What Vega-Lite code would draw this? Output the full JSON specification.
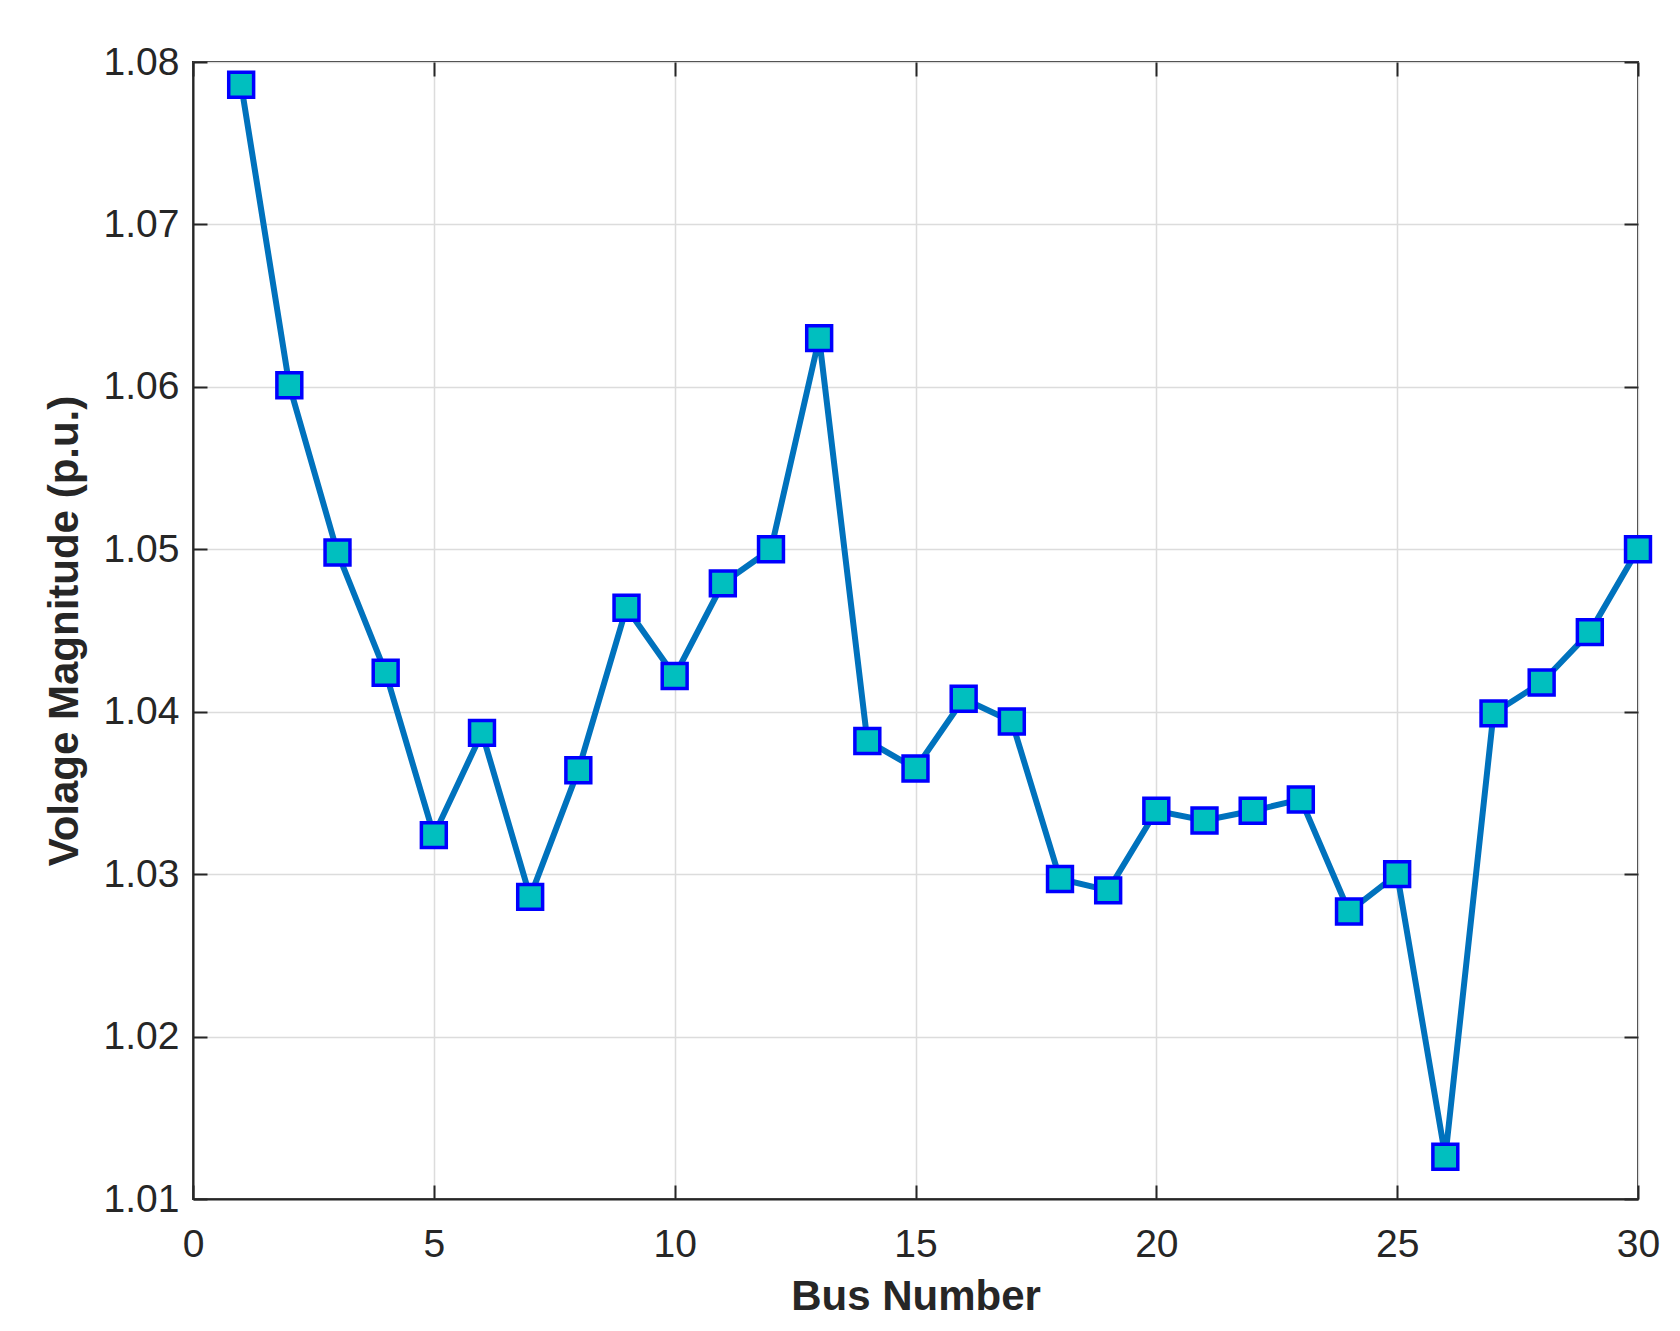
{
  "$schema": "https://vega.github.io/schema/vega-lite/v6.json",
  "width": 1445,
  "height": 1137,
  "autosize": {"type": "none"},
  "padding": {"left": 193, "top": 62, "right": 42, "bottom": 132},
  "background": "white",
  "config": {
    "view": {"stroke": "#262626", "strokeWidth": 2},
    "axis": {
      "labelFont": "Liberation Sans",
      "titleFont": "Liberation Sans",
      "labelFontSize": 39,
      "titleFontSize": 42,
      "labelColor": "#262626",
      "titleColor": "#262626",
      "titleFontWeight": "bold",
      "domainColor": "#262626",
      "domainWidth": 2,
      "tickColor": "#262626",
      "tickWidth": 2,
      "gridColor": "#dcdcdc",
      "gridWidth": 1.5
    }
  },
  "data": {
    "values": [
      {"bus": 1, "v": 1.0786},
      {"bus": 2, "v": 1.0601},
      {"bus": 3, "v": 1.0498},
      {"bus": 4, "v": 1.0424},
      {"bus": 5, "v": 1.0324},
      {"bus": 6, "v": 1.0387},
      {"bus": 7, "v": 1.0286},
      {"bus": 8, "v": 1.0364},
      {"bus": 9, "v": 1.0464},
      {"bus": 10, "v": 1.0422},
      {"bus": 11, "v": 1.0479},
      {"bus": 12, "v": 1.0500},
      {"bus": 13, "v": 1.0630},
      {"bus": 14, "v": 1.0382},
      {"bus": 15, "v": 1.0365},
      {"bus": 16, "v": 1.0408},
      {"bus": 17, "v": 1.0394},
      {"bus": 18, "v": 1.0297},
      {"bus": 19, "v": 1.0290},
      {"bus": 20, "v": 1.0339},
      {"bus": 21, "v": 1.0333},
      {"bus": 22, "v": 1.0339},
      {"bus": 23, "v": 1.0346},
      {"bus": 24, "v": 1.0277},
      {"bus": 25, "v": 1.0300},
      {"bus": 26, "v": 1.0126},
      {"bus": 27, "v": 1.0399},
      {"bus": 28, "v": 1.0418},
      {"bus": 29, "v": 1.0449},
      {"bus": 30, "v": 1.0500}
    ]
  },
  "layer": [
    {
      "mark": {"type": "line", "color": "#0072BD", "strokeWidth": 6},
      "encoding": {
        "x": {
          "field": "bus", "type": "quantitative",
          "scale": {"domain": [0, 30], "nice": false, "zero": false},
          "axis": {"values": [0, 5, 10, 15, 20, 25, 30], "title": "Bus Number", "tickSize": -14, "labelPadding": 40, "titlePadding": 12, "labelFlush": false}
        },
        "y": {
          "field": "v", "type": "quantitative",
          "scale": {"domain": [1.01, 1.08], "nice": false, "zero": false},
          "axis": {"values": [1.01, 1.02, 1.03, 1.04, 1.05, 1.06, 1.07, 1.08], "format": ".2f", "title": "Volage Magnitude (p.u.)", "tickSize": -14, "labelPadding": 28, "titlePadding": 17, "labelFlush": false}
        }
      }
    },
    {
      "mark": {"type": "square", "size": 620, "fill": "#00BFBF", "stroke": "#0000FF", "strokeWidth": 3.5, "opacity": 1},
      "encoding": {
        "x": {"field": "bus", "type": "quantitative", "axis": {"orient": "top", "labels": false, "title": null, "grid": false, "domain": false, "tickSize": -14, "values": [0, 5, 10, 15, 20, 25, 30]}},
        "y": {"field": "v", "type": "quantitative", "axis": {"orient": "right", "labels": false, "title": null, "grid": false, "domain": false, "tickSize": -14, "values": [1.01, 1.02, 1.03, 1.04, 1.05, 1.06, 1.07, 1.08]}}
      }
    }
  ],
  "resolve": {"axis": {"x": "independent", "y": "independent"}}
}
